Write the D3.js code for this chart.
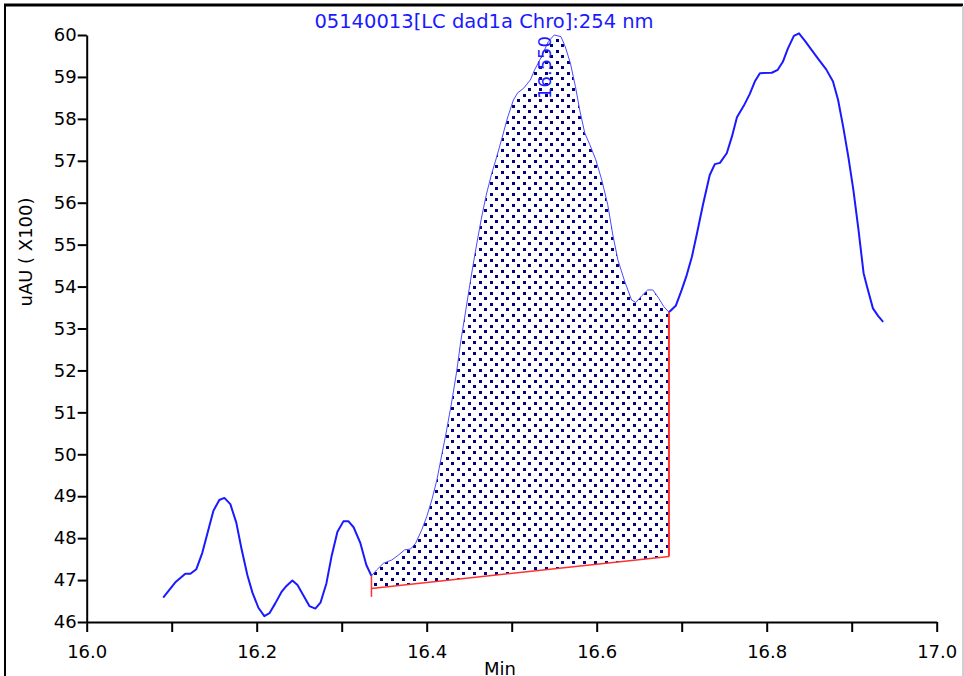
<!DOCTYPE html>
<html>
<head>
<meta charset="utf-8">
<script src="https://cdn.jsdelivr.net/npm/d3@7"></script>
<style>
  html, body { margin: 0; padding: 0; background: #fff; }
  svg { display: block; }
  text { font-family: "DejaVu Sans", sans-serif; }
</style>
</head>
<body>
<svg id="chart" width="964" height="676"></svg>
<script>
// Retention time (min) of each sampled detector point
const times = [
  16.090, 16.104, 16.116, 16.122, 16.129, 16.136, 16.143, 16.149, 16.156, 16.162,
  16.169, 16.176, 16.182, 16.189, 16.195, 16.202, 16.209, 16.215, 16.222, 16.229,
  16.235, 16.242, 16.248, 16.255, 16.262, 16.269, 16.275, 16.282, 16.288, 16.295,
  16.302, 16.308, 16.314, 16.322, 16.329, 16.335, 16.341, 16.349, 16.359, 16.367,
  16.374, 16.381, 16.387, 16.394, 16.400, 16.406, 16.412, 16.417, 16.423, 16.429,
  16.435, 16.440, 16.446, 16.452, 16.458, 16.464, 16.470, 16.476, 16.482, 16.488,
  16.495, 16.502, 16.507, 16.514, 16.522, 16.527, 16.535, 16.543, 16.550, 16.558,
  16.563, 16.569, 16.575, 16.580, 16.586, 16.592, 16.599, 16.606, 16.613, 16.619,
  16.625, 16.633, 16.641, 16.646, 16.653, 16.660, 16.666, 16.673, 16.679, 16.685,
  16.693, 16.700, 16.706, 16.712, 16.718, 16.725, 16.733, 16.739, 16.745, 16.753,
  16.759, 16.765, 16.773, 16.780, 16.786, 16.792, 16.806, 16.813, 16.819, 16.825,
  16.832, 16.838, 16.845, 16.853, 16.861, 16.870, 16.878, 16.884, 16.890, 16.896,
  16.902, 16.908, 16.914, 16.918, 16.925, 16.931, 16.937
];

// Absorbance at 254 nm, uAU x100
const signal = [
  46.58, 46.94, 47.15, 47.15, 47.26, 47.65, 48.19, 48.65, 48.91, 48.96,
  48.81, 48.37, 47.76, 47.12, 46.70, 46.34, 46.14, 46.21, 46.45, 46.71,
  46.86, 46.99, 46.88, 46.63, 46.38, 46.32, 46.46, 46.92, 47.56, 48.15,
  48.40, 48.40, 48.26, 47.88, 47.36, 47.10, 47.24, 47.40, 47.48, 47.60,
  47.72, 47.74, 47.88, 48.19, 48.51, 48.91, 49.39, 49.91, 50.53, 51.20,
  51.94, 52.68, 53.44, 54.20, 54.92, 55.59, 56.18, 56.66, 57.07, 57.50,
  58.02, 58.45, 58.62, 58.73, 58.93, 59.17, 59.48, 59.84, 60.00, 59.96,
  59.72, 59.33, 58.77, 58.21, 57.66, 57.38, 57.02, 56.54, 55.95, 55.23,
  54.63, 54.12, 53.68, 53.62, 53.78, 53.92, 53.92, 53.72, 53.52, 53.39,
  53.54, 53.92, 54.28, 54.71, 55.27, 55.95, 56.66, 56.92, 56.95, 57.18,
  57.57, 58.04, 58.31, 58.59, 58.89, 59.09, 59.10, 59.17, 59.36, 59.68,
  59.98, 60.04, 59.86, 59.64, 59.42, 59.18, 58.89, 58.45, 57.81, 57.10,
  56.30, 55.35, 54.32, 54.00, 53.48, 53.30, 53.16
];

// Integrated peak: start / end times and the drawn baseline levels
const peakStart = 16.335;
const peakEnd = 16.685;
const baselineLevels = [46.80, 47.56];
const startMarkBottom = 46.60;
const peakApex = 16.550;
const peakLabel = "16.550";

// Axis ticks
const yTicks = [46, 47, 48, 49, 50, 51, 52, 53, 54, 55, 56, 57, 58, 59, 60];
const xTicks = [16.0, 16.1, 16.2, 16.3, 16.4, 16.5, 16.6, 16.7, 16.8, 16.9, 17.0];
const xTickLabels = ["16.0", "", "16.2", "", "16.4", "", "16.6", "", "16.8", "", "17.0"];

const titleText = "05140013[LC dad1a Chro]:254 nm";
const yTitle = "uAU ( X100)";
const xTitle = "Min";

const BLUE = "#1a1aff";
const FONT = 18;

const svg = d3.select("#chart");
const x = d3.scaleLinear().domain([16, 17]).range([86.7, 936.7]);
const y = d3.scaleLinear().domain([46, 60]).range([622, 35]);

const pts = times.map((t, i) => ({ t, v: signal[i] }));
const baseAt = t => baselineLevels[0] +
  (t - peakStart) / (peakEnd - peakStart) * (baselineLevels[1] - baselineLevels[0]);

// Dotted fill for the integrated area
const pat = svg.append("defs").append("pattern")
  .attr("id", "dots")
  .attr("patternUnits", "userSpaceOnUse")
  .attr("width", 11).attr("height", 11);
pat.append("rect").attr("width", 11).attr("height", 11).attr("fill", "#fff");
pat.append("rect").attr("x", 0).attr("y", 0).attr("width", 3).attr("height", 3)
  .attr("fill", "#000080").attr("shape-rendering", "crispEdges");
pat.append("rect").attr("x", 5.5).attr("y", 5.5).attr("width", 3).attr("height", 3)
  .attr("fill", "#000080").attr("shape-rendering", "crispEdges");

// Outer frame
svg.append("line").attr("x1", 4).attr("x2", 963).attr("y1", 5).attr("y2", 5)
  .attr("stroke", "#000").attr("stroke-width", 3);
svg.append("line").attr("x1", 5).attr("x2", 5).attr("y1", 4).attr("y2", 676)
  .attr("stroke", "#000").attr("stroke-width", 2);
svg.append("line").attr("x1", 963).attr("x2", 963).attr("y1", 6).attr("y2", 676)
  .attr("stroke", "#cfcfcf").attr("stroke-width", 2);

// Integrated area
const inPeak = pts.filter(d => d.t >= peakStart - 1e-9 && d.t <= peakEnd + 1e-9);
const area = d3.area()
  .x(d => x(d.t))
  .y0(d => y(baseAt(d.t)))
  .y1(d => y(d.v));
svg.append("path").datum(inPeak).attr("d", area).attr("fill", "url(#dots)");

// Chromatogram trace: thick outside the peak, thin over the integrated region
const line = d3.line().x(d => x(d.t)).y(d => y(d.v));
const before = pts.filter(d => d.t <= peakStart + 1e-9);
const after = pts.filter(d => d.t >= peakEnd - 1e-9);
svg.append("path").datum(before).attr("d", line)
  .attr("fill", "none").attr("stroke", BLUE).attr("stroke-width", 2)
  .attr("stroke-linejoin", "round");
svg.append("path").datum(after).attr("d", line)
  .attr("fill", "none").attr("stroke", BLUE).attr("stroke-width", 2)
  .attr("stroke-linejoin", "round");
svg.append("path").datum(inPeak).attr("d", line)
  .attr("fill", "none").attr("stroke", "#4a4aff").attr("stroke-width", 1);

// Baseline and peak delimiters
const startV = inPeak[0].v, endV = inPeak[inPeak.length - 1].v;
const red = "#ff3030";
svg.append("line")
  .attr("x1", x(peakStart)).attr("y1", y(baselineLevels[0]))
  .attr("x2", x(peakEnd)).attr("y2", y(baselineLevels[1]))
  .attr("stroke", red).attr("stroke-width", 1.5);
svg.append("line")
  .attr("x1", x(peakStart)).attr("x2", x(peakStart))
  .attr("y1", y(startV)).attr("y2", y(startMarkBottom))
  .attr("stroke", red).attr("stroke-width", 1.5);
svg.append("line")
  .attr("x1", x(peakEnd)).attr("x2", x(peakEnd))
  .attr("y1", y(endV)).attr("y2", y(baselineLevels[1]))
  .attr("stroke", red).attr("stroke-width", 2);

// Axes
function styleAxis(g) {
  g.select(".domain").attr("stroke", "#000").attr("stroke-width", 2);
  g.selectAll(".tick line").attr("stroke", "#000").attr("stroke-width", 2);
  g.selectAll(".tick text").attr("fill", "#000").attr("font-size", FONT)
    .attr("font-family", "'DejaVu Sans', sans-serif");
}
svg.append("g").attr("transform", "translate(86.7,0)")
  .call(d3.axisLeft(y).tickValues(yTicks).tickSize(9).tickSizeOuter(0)
    .tickPadding(1).tickFormat(d3.format("d")))
  .call(styleAxis);
svg.append("g").attr("transform", "translate(0,622)")
  .call(d3.axisBottom(x).tickValues(xTicks).tickSize(10).tickSizeOuter(0)
    .tickPadding(13).tickFormat((d, i) => xTickLabels[i]))
  .call(styleAxis);

// Titles
svg.append("text").attr("x", 484).attr("y", 28).attr("text-anchor", "middle")
  .attr("fill", BLUE).attr("font-size", 19.5).text(titleText);
svg.append("text").attr("transform", "translate(32,252) rotate(-90)")
  .attr("text-anchor", "middle").attr("fill", "#000").attr("font-size", FONT)
  .text(yTitle);
svg.append("text").attr("x", 500).attr("y", 675).attr("text-anchor", "middle")
  .attr("fill", "#000").attr("font-size", FONT).text(xTitle);

// Retention time label at the apex
svg.append("text")
  .attr("transform", `translate(${x(peakApex) - 3},99) rotate(-90)`)
  .attr("text-anchor", "start").attr("fill", BLUE).attr("font-size", FONT)
  .text(peakLabel);
</script>
</body>
</html>
